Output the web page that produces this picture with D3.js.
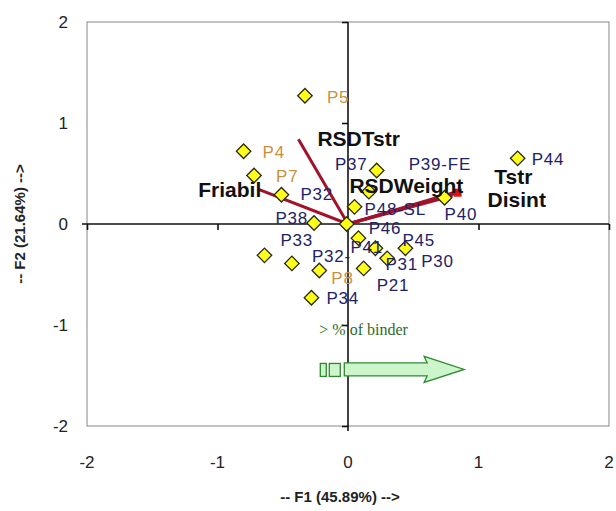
<!DOCTYPE html>
<html>
<head>
<meta charset="utf-8">
<script src="https://cdn.jsdelivr.net/npm/d3@7"></script>
<style>
  body { margin: 0; background: #fff; }
  svg { display: block; font-family: Arial, "Liberation Sans", sans-serif; }
</style>
</head>
<body>
<svg id="chart" width="616" height="511"></svg>
<script>
// observations (F1, F2 scores)
const obsNames = ["P5","P4","P7","P32","P38","P46","P48-SL","P37","P39-FE","P40","P44",
                  "P33","P32-","P8","P34","P21","P41","P31","P45","P30"];
const obsF1 = [-0.33,-0.80,-0.72,-0.51,-0.26,-0.01,0.05,0.16,0.22,0.74,1.30,
               -0.64,-0.43,-0.22,-0.28,0.12,0.08,0.21,0.44,0.30];
const obsF2 = [1.27,0.72,0.48,0.29,0.01,0.00,0.17,0.32,0.53,0.26,0.65,
               -0.31,-0.39,-0.46,-0.73,-0.44,-0.14,-0.24,-0.24,-0.34];
const obsGroup = ["a","a","a","b","b","b","b","b","b","b","b",
                  "b","b","a","b","b","b","b","b","b"];

// variables (loadings)
const varNames = ["Friabil","RSDTstr","RSDWeight","Tstr","Disint"];
const varF1 = [-0.68,-0.38,0.80,0.86,0.84];
const varF2 = [0.34,0.84,0.28,0.33,0.31];

const tickValues = [-2,-1,0,1,2];
const xTitle = "-- F1 (45.89%) -->";
const yTitle = "-- F2 (21.64%) -->";
const binderText = "> % of binder";
const binderArrow = [-0.22, 0.89, -1.44]; // from F1, to F1, at F2

const svg = d3.select("#chart");
const x = d3.scaleLinear().domain([-2,2]).range([87,609]);
const y = d3.scaleLinear().domain([-2,2]).range([426,22]);

// label offsets in px (only where the label is not just right of the mark)
const labelOff = {
  "P5":[22,7], "P4":[19,7], "P7":[22,6], "P32":[19,5], "P38":[-6,1,"end"],
  "P46":[22,10], "P48-SL":[10,8], "P37":[-34,-22], "P39-FE":[32,0], "P40":[0,22],
  "P33":[16,-9], "P32-":[20,-1], "P8":[12,14], "P34":[15,6], "P21":[13,23],
  "P41":[-8,15], "P31":[10,22], "P45":[-3,-2], "P30":[34,9]
};
const varOff = {
  "Friabil":[2,7,"end"], "RSDTstr":[19,7], "RSDWeight":[-103,-3],
  "Tstr":[34,-7], "Disint":[30,14]
};

// frame
svg.append("rect")
  .attr("x", x(-2)).attr("y", y(2))
  .attr("width", x(2)-x(-2)).attr("height", y(-2)-y(2))
  .attr("fill","none").attr("stroke","#9a9a9a").attr("stroke-width",1.2);

// tick labels
svg.append("g").selectAll("text").data(tickValues).join("text")
  .attr("x", 68).attr("y", d => y(d)+6)
  .attr("text-anchor","end").attr("font-size",17).attr("fill","#222")
  .text(d => d);
svg.append("g").selectAll("text").data(tickValues).join("text")
  .attr("x", d => x(d)).attr("y", 468)
  .attr("text-anchor","middle").attr("font-size",17).attr("fill","#222")
  .text(d => d);

// zero axes with ticks
const xAxis = d3.axisBottom(x).tickValues(tickValues).tickSize(6).tickFormat("");
const yAxis = d3.axisLeft(y).tickValues(tickValues).tickSize(6).tickFormat("");
const gx = svg.append("g").attr("transform", `translate(0,${y(0)})`).call(xAxis);
const gy = svg.append("g").attr("transform", `translate(${x(0)},0)`).call(yAxis);
[gx, gy].forEach(g => {
  g.select(".domain").attr("stroke","#111").attr("stroke-width",1.6);
  g.selectAll(".tick line").attr("stroke","#111").attr("stroke-width",1.6);
});
gx.select(".domain").attr("d", `M${x(-2)-5},0H${x(2)}`);
gy.select(".domain").attr("d", `M0,${y(2)}V${y(-2)+5}`);

// variable vectors
const vars = varNames.map((n,i) => ({name:n, f1:varF1[i], f2:varF2[i]}));
svg.append("g").selectAll("line").data(vars).join("line")
  .attr("x1", x(0)).attr("y1", y(0))
  .attr("x2", d => x(d.f1)).attr("y2", d => y(d.f2))
  .attr("stroke","#a3122b").attr("stroke-width",3);
svg.append("rect")
  .attr("x", x(varF1[4])-4).attr("y", y(varF2[4])-4)
  .attr("width",8).attr("height",8).attr("fill","#e01010");

// observations
const obs = obsNames.map((n,i) => ({name:n, f1:obsF1[i], f2:obsF2[i], g:obsGroup[i]}));
const diamond = d3.symbol().type(d3.symbolSquare).size(105);
svg.append("g").selectAll("path").data(obs).join("path")
  .attr("d", diamond)
  .attr("transform", d => `translate(${x(d.f1)},${y(d.f2)}) rotate(45)`)
  .attr("fill","#ffff1a").attr("stroke","#2a2a10").attr("stroke-width",1.3);

svg.append("g").selectAll("text").data(obs).join("text")
  .attr("x", d => x(d.f1) + (labelOff[d.name] || [14,7])[0])
  .attr("y", d => y(d.f2) + (labelOff[d.name] || [14,7])[1])
  .attr("text-anchor", d => (labelOff[d.name] || [])[2] || "start")
  .attr("font-size",17).attr("letter-spacing",0.8)
  .attr("fill", d => d.g === "a" ? "#c9913f" : "#1e2266")
  .text(d => d.name);

// variable labels on top
svg.append("g").selectAll("text").data(vars).join("text")
  .attr("x", d => x(d.f1) + varOff[d.name][0])
  .attr("y", d => y(d.f2) + varOff[d.name][1])
  .attr("text-anchor", d => varOff[d.name][2] || "start")
  .attr("font-size",21).attr("font-weight","bold").attr("fill","#111")
  .text(d => d.name);

// binder annotation
svg.append("text")
  .attr("x", x(binderArrow[0])).attr("y", y(-1.05)+5)
  .attr("font-family","'Liberation Serif', 'DejaVu Serif', serif")
  .attr("font-size",16).attr("fill","#2c6b2c")
  .text(binderText);
const ax0 = x(binderArrow[0]), ax1 = x(binderArrow[1]), ay = y(binderArrow[2]);
const headX = ax1 - 37;
svg.append("rect").attr("x", ax0+1).attr("y", ay-6).attr("width",6).attr("height",13)
  .attr("fill","#ccf5cc").attr("stroke","#2c8a2c").attr("stroke-width",1.3);
svg.append("rect").attr("x", ax0+10).attr("y", ay-6).attr("width",11).attr("height",13)
  .attr("fill","#ccf5cc").attr("stroke","#2c8a2c").attr("stroke-width",1.3);
svg.append("path")
  .attr("d", `M${ax0+25},${ay-6.5}H${headX}L${headX-3},${ay-13}L${ax1},${ay}L${headX-3},${ay+13}L${headX},${ay+6.5}H${ax0+25}Z`)
  .attr("fill","#ccf5cc").attr("stroke","#2c8a2c").attr("stroke-width",1.3);

// axis titles
svg.append("text").attr("x", 340).attr("y", 502).attr("text-anchor","middle")
  .attr("font-size",15).attr("font-weight","bold").attr("fill","#222").text(xTitle);
svg.append("text").attr("transform", `translate(25,${y(0)}) rotate(-90)`)
  .attr("text-anchor","middle")
  .attr("font-size",15).attr("font-weight","bold").attr("fill","#222").text(yTitle);
</script>
</body>
</html>
